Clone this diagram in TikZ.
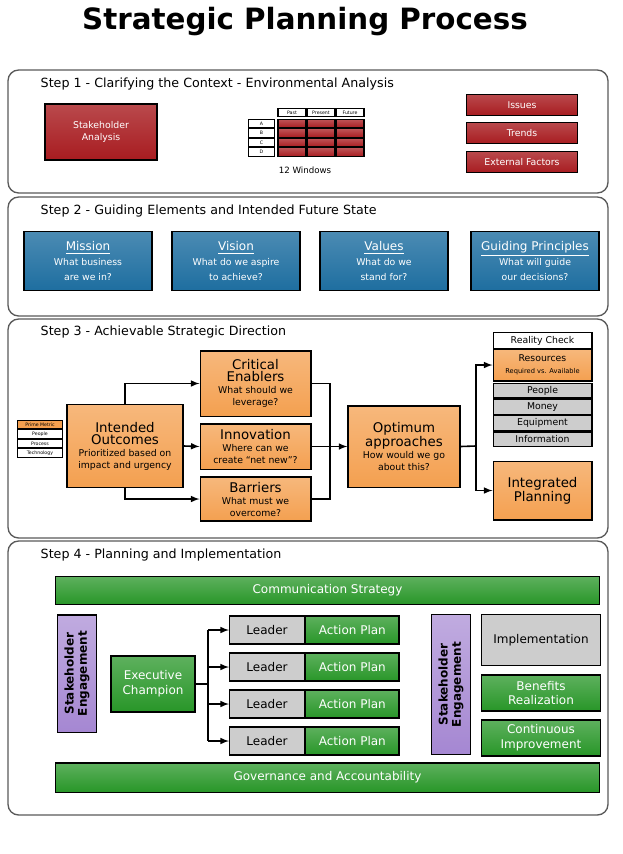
\documentclass[tikz,border=0pt]{standalone}
\usepackage{fontspec}
\setmainfont{DejaVu Sans}
\usetikzlibrary{positioning}

\definecolor{redbox}{RGB}{168,28,32}
\definecolor{bluebox}{RGB}{30,110,160}
\definecolor{orangebox}{RGB}{244,160,80}
\definecolor{greenbox}{RGB}{40,150,40}
\definecolor{purplebox}{RGB}{165,135,210}
\definecolor{graybox}{RGB}{205,205,205}
\definecolor{panelline}{RGB}{90,90,90}

\tikzset{
  panel/.style={draw=panelline, line width=1pt, rounded corners=8pt, fill=white},
  steplabel/.style={anchor=west, font=\fontsize{9.5}{12}\selectfont},
  box/.style={draw=black, line width=1pt, inner sep=1pt, align=center, minimum width=#1},
  redb/.style={box=0, top color=redbox!80, bottom color=redbox, text=white, font=\fontsize{7}{9}\selectfont},
  blueb/.style={box=0, top color=bluebox!80, bottom color=bluebox, text=white, font=\fontsize{7}{11}\selectfont},
  orangeb/.style={box=0, top color=orangebox!75, bottom color=orangebox, font=\fontsize{7}{9}\selectfont},
  greenb/.style={box=0, top color=greenbox!75, bottom color=greenbox, text=white, font=\fontsize{9}{11}\selectfont},
  grayb/.style={box=0, fill=graybox, font=\fontsize{9}{11}\selectfont},
  purpleb/.style={box=0, top color=purplebox!70, bottom color=purplebox},
  flow/.style={line width=1.2pt, -latex},
}

\begin{document}
\begin{tikzpicture}[x=0.75pt,y=-0.75pt]
\useasboundingbox (0,0) rectangle (622,854);
\fill[white] (0,0) rectangle (622,854);

% Title
\node (title) at (305,22) {\fontsize{22}{26}\selectfont\bfseries Strategic Planning Process};

% Panels
\draw[panel] (8,70) rectangle (608,193);
\draw[panel] (8,197) rectangle (608,316);
\draw[panel] (8,319) rectangle (608,538);
\draw[panel] (8,541) rectangle (608,815);
\node[steplabel] (s1) at (36,84) {Step 1 - Clarifying the Context - Environmental Analysis};
\node[steplabel] (s2) at (36,211) {Step 2 - Guiding Elements and Intended Future State};
\node[steplabel] (s3) at (36,332) {Step 3 - Achievable Strategic Direction};
\node[steplabel] (s4) at (36,555) {Step 4 - Planning and Implementation};

%% Step 1
\node[redb, minimum width=84pt, minimum height=42pt] (stake) at (101,132) {Stakeholder\\Analysis};
\foreach \lab [count=\i] in {Past,Present,Future}
  \node[draw, fill=white, line width=0.8pt, minimum width=21pt, minimum height=6pt, inner sep=0pt,
        font=\fontsize{3.5}{4}\selectfont] (h\i) at (263+29*\i,112.5) {\lab};
\foreach \r [count=\j] in {A,B,C,D} {
  \node[draw, fill=white, line width=0.8pt, minimum width=20pt, minimum height=6.5pt, inner sep=0pt,
        font=\fontsize{3.5}{4}\selectfont] (r\j) at (261.5,114+9.5*\j) {\r};
  \foreach \i in {1,2,3}
    \node[draw, line width=0.8pt, top color=redbox!75, bottom color=redbox, minimum width=21pt,
          minimum height=6.5pt, inner sep=0pt] (c\j\i) at (263+29*\i,114+9.5*\j) {};
}
\node[font=\fontsize{6.5}{8}\selectfont] (win) at (305,170) {12 Windows};
\node[redb, minimum width=83pt, minimum height=16pt] (issues) at (522,105) {Issues};
\node[redb, minimum width=83pt, minimum height=16pt] (trends) at (522,133) {Trends};
\node[redb, minimum width=83pt, minimum height=16pt] (ext) at (522,162) {External Factors};

%% Step 2
\node[blueb, minimum width=96pt, minimum height=44pt] (mission) at (88,261)
  {\fontsize{9}{11}\selectfont\underline{Mission}\\What business\\are we in?};
\node[blueb, minimum width=96pt, minimum height=44pt] (vision) at (236,261)
  {\fontsize{9}{11}\selectfont\underline{Vision}\\What do we aspire\\to achieve?};
\node[blueb, minimum width=96pt, minimum height=44pt] (values) at (384,261)
  {\fontsize{9}{11}\selectfont\underline{Values}\\What do we\\stand for?};
\node[blueb, minimum width=96pt, minimum height=44pt] (princ) at (535,261)
  {\fontsize{9}{11}\selectfont\underline{Guiding Principles}\\What will guide\\our decisions?};

%% Step 3
\node[orangeb, minimum width=87pt, minimum height=62pt] (intended) at (125,446)
  {\fontsize{10}{12}\selectfont Intended\\\fontsize{10}{12}\selectfont Outcomes\\Prioritized based on\\impact and urgency};
\foreach \lab/\col [count=\k] in {Prime Metric/orangebox,People/white,Process/white,Technology/white}
  \node[draw, line width=0.8pt, fill=\col, minimum width=34pt, minimum height=6.5pt,
        inner sep=0pt, font=\fontsize{3.5}{4}\selectfont] (pm\k) at (40,415+9.5*\k) {\lab};
\node[orangeb, minimum width=83pt, minimum height=49pt] (enablers) at (255.5,383.5)
  {\fontsize{10}{12}\selectfont Critical\\\fontsize{10}{12}\selectfont Enablers\\What should we\\leverage?};
\node[orangeb, minimum width=83pt, minimum height=34pt] (innov) at (255.5,446.5)
  {\fontsize{10}{12}\selectfont Innovation\\Where can we\\create ``net new''?};
\node[orangeb, minimum width=83pt, minimum height=33pt] (barriers) at (255.5,499)
  {\fontsize{10}{12}\selectfont Barriers\\What must we\\overcome?};
\node[orangeb, minimum width=84pt, minimum height=61pt] (optimum) at (404,446.5)
  {\fontsize{10}{12}\selectfont Optimum\\\fontsize{10}{12}\selectfont approaches\\How would we go\\about this?};
\node[box=74pt, fill=white, minimum height=12pt, font=\fontsize{7}{8}\selectfont] (reality) at (542.5,340.5) {Reality Check};
\node[orangeb, minimum width=74pt, minimum height=24pt] (resources) at (542.5,365)
  {Resources\\\fontsize{5}{6}\selectfont Required vs. Available};
\foreach \lab [count=\k] in {People,Money,Equipment,Information}
  \node[box=74pt, fill=graybox, minimum height=11pt, font=\fontsize{7}{8}\selectfont] (res\k) at (542.5,374.5+16.2*\k) {\lab};
\node[orangeb, minimum width=74pt, minimum height=44pt] (integ) at (542.5,490.5)
  {\fontsize{10}{12}\selectfont Integrated\\\fontsize{10}{12}\selectfont Planning};

\draw[flow] (intended.north) |- (enablers.west);
\draw[flow] (intended.east) -- (innov.west);
\draw[flow] (intended.south) |- (barriers.west);
\coordinate (join) at (330,446);
\draw[line width=1.2pt] (enablers.east) -| (join);
\draw[line width=1.2pt] (barriers.east) -| (join);
\draw[flow] (innov.east) -- (optimum.west);
\coordinate (split) at (476,446);
\draw[line width=1.2pt] (optimum.east) -- (split);
\draw[flow] (split) |- (resources.west);
\draw[flow] (split) |- (integ.west);

%% Step 4
\node[greenb, minimum width=408pt, minimum height=21pt] (comm) at (327.5,590.5) {Communication Strategy};
\node[greenb, minimum width=408pt, minimum height=22pt] (gov) at (327.5,777.5) {Governance and Accountability};
\node[purpleb, minimum width=29pt, minimum height=88pt] (eng1) at (77,673.5) {};
\node[rotate=90, font=\fontsize{9}{10}\selectfont\bfseries, align=center] (eng1t) at (eng1) {Stakeholder\\Engagement};
\node[purpleb, minimum width=29pt, minimum height=105pt] (eng2) at (451,684.5) {};
\node[rotate=90, font=\fontsize{9}{10}\selectfont\bfseries, align=center] (eng2t) at (eng2) {Stakeholder\\Engagement};
\node[greenb, minimum width=63pt, minimum height=42pt] (exec) at (153,684) {Executive\\Champion};
\coordinate (bus) at (208,684);
\draw[line width=1.2pt] (exec.east) -- (bus);
\foreach \k in {1,2,3,4} {
  \node[grayb, minimum width=56pt, minimum height=21pt] (lead\k) at (267,593+37*\k) {Leader};
  \node[greenb, minimum width=70pt, minimum height=21pt, right=0pt of lead\k] (plan\k) {Action Plan};
  \draw[flow] (bus |- lead\k) -- (lead\k.west);
}
\draw[line width=1.2pt] (bus |- lead1) -- (bus |- lead4);
\node[grayb, minimum width=89pt, minimum height=38pt] (impl) at (541,640) {Implementation};
\node[greenb, minimum width=89pt, minimum height=27pt] (benef) at (541,693) {Benefits\\Realization};
\node[greenb, minimum width=89pt, minimum height=27pt] (cont) at (541,738) {Continuous\\Improvement};
\end{tikzpicture}
\end{document}
